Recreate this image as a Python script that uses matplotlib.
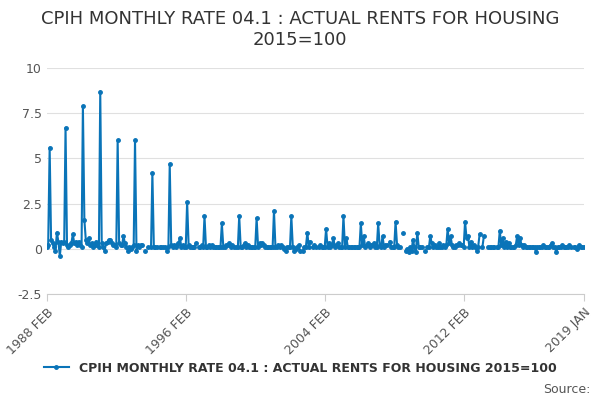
import matplotlib
matplotlib.use("Agg")
import matplotlib.pyplot as plt
import numpy as np
import pandas as pd

N = None
y1988 = [0.1, 0.2, 5.6, 0.5, 0.3, 0.1, -0.1, 0.9, 0.4, -0.4, 0.4, 0.2]  # Feb-Jan89 offset handled below
y1989 = [0.3, 0.4, 6.7, 0.2, 0.1, 0.2, 0.3, 0.8, 0.3, 0.4, 0.2, 0.4]
y1990 = [0.2, 0.1, 7.9, 1.6, 0.5, 0.3, 0.6, 0.2, 0.3, 0.1, 0.2, 0.4]
y1991 = [0.2, 0.1, 8.7, 0.3, 0.1, -0.1, 0.3, 0.4, 0.5, 0.5, 0.3, 0.2]
y1992 = [0.2, 0.1, 6.0, 0.3, 0.2, 0.2, 0.7, 0.3, 0.1, -0.1, 0.1, 0.0]
y1993 = [0.1, 0.2, 6.0, -0.1, 0.2, 0.1, 0.2, 0.2, N, -0.1, N, 0.1]
y1994 = [N, 0.1, 4.2, 0.1, 0.1, 0.1, N, 0.1, 0.1, 0.1, N, 0.1]
y1995 = [-0.1, 0.1, 4.7, 0.2, 0.1, 0.2, 0.1, 0.2, 0.3, 0.6, 0.1, 0.2]
y1996 = [0.1, 0.1, 2.6, 0.2, 0.1, 0.1, 0.1, 0.1, 0.3, N, 0.1, 0.1]
y1997 = [0.2, 0.1, 1.8, 0.1, 0.1, 0.2, 0.1, 0.2, 0.1, 0.1, 0.1, 0.1]
y1998 = [0.1, 0.1, 1.4, 0.1, 0.1, 0.2, 0.2, 0.3, 0.1, 0.2, 0.1, N]
y1999 = [0.1, 0.1, 1.8, 0.1, 0.1, 0.2, 0.3, 0.1, 0.2, 0.1, 0.1, 0.1]
y2000 = [0.1, 0.1, 1.7, 0.1, 0.3, 0.2, 0.3, 0.2, 0.1, 0.1, 0.1, 0.1]
y2001 = [0.1, 0.1, 2.1, 0.1, 0.1, 0.2, 0.1, 0.2, 0.1, 0.0, -0.1, 0.1]
y2002 = [0.1, 0.1, 1.8, 0.1, -0.1, 0.0, 0.1, 0.2, -0.1, N, -0.1, 0.1]
y2003 = [0.1, 0.9, 0.1, 0.4, N, 0.1, 0.2, 0.1, N, 0.1, 0.2, 0.1]
y2004 = [0.1, 0.1, 1.1, 0.1, 0.3, 0.1, 0.2, 0.6, 0.1, 0.2, 0.3, 0.1]
y2005 = [0.1, 0.1, 1.8, 0.1, 0.6, 0.1, 0.1, 0.1, 0.1, 0.1, 0.1, 0.1]
y2006 = [0.1, 0.1, 1.4, 0.2, 0.7, 0.1, 0.2, 0.3, 0.1, 0.2, 0.2, 0.3]
y2007 = [0.1, 0.1, 1.4, 0.2, 0.1, 0.7, 0.1, 0.2, 0.2, N, 0.4, 0.1]
y2008 = [0.1, 0.1, 1.5, 0.2, 0.1, 0.1, N, 0.9, N, -0.1, 0.0, -0.2]
y2009 = [0.1, -0.1, 0.5, 0.1, -0.2, 0.9, 0.1, 0.1, 0.1, N, -0.1, N]
y2010 = [0.1, 0.1, 0.7, 0.3, 0.1, 0.2, 0.1, 0.1, 0.3, 0.1, 0.1, 0.2]
y2011 = [0.1, 0.2, 1.1, 0.3, 0.7, 0.2, 0.1, 0.1, 0.2, 0.2, 0.3, 0.2]
y2012 = [0.2, 0.1, 1.5, 0.6, 0.7, 0.1, 0.4, 0.1, 0.2, 0.1, -0.1, 0.1]
y2013 = [0.8, N, 0.1, 0.7, N, N, 0.1, 0.1, 0.1, 0.1, 0.1, N]
y2014 = [0.1, 0.1, 1.0, 0.2, 0.6, 0.1, 0.4, 0.1, 0.3, 0.1, 0.1, 0.1]
y2015 = [0.1, 0.2, 0.7, 0.2, 0.6, 0.2, 0.1, 0.2, 0.1, 0.1, 0.1, 0.1]
y2016 = [0.1, 0.1, 0.1, -0.2, 0.1, 0.1, 0.1, 0.1, 0.2, 0.1, 0.1, 0.1]
y2017 = [0.1, 0.2, 0.3, 0.1, 0.1, -0.2, 0.1, 0.1, 0.1, 0.2, 0.1, 0.1]
y2018 = [0.1, 0.1, 0.2, 0.1, N, 0.1, 0.1, 0.0, 0.1, 0.2, 0.1, 0.1]
y2019 = [0.1]

values = (y1988[:11] + y1989 + y1990 + y1991 + y1992 + y1993 + y1994 + y1995 + y1996
          + y1997 + y1998 + y1999 + y2000 + y2001 + y2002 + y2003 + y2004 + y2005
          + y2006 + y2007 + y2008 + y2009 + y2010 + y2011 + y2012 + y2013 + y2014
          + y2015 + y2016 + y2017 + y2018 + y2019)
dates = pd.date_range("1988-02-01", periods=len(values), freq="MS")
vals = np.array([np.nan if v is None else v for v in values], dtype=float)

tick_dates = pd.to_datetime(["1988-02-01", "1996-02-01", "2004-02-01", "2012-02-01", "2019-01-01"])
tick_labels = ["1988 FEB", "1996 FEB", "2004 FEB", "2012 FEB", "2019 JAN"]
yticks = [-2.5, 0, 2.5, 5, 7.5, 10]

col = "#0a74b8"
fig = plt.figure(figsize=(6, 4), dpi=100)
ax = fig.add_axes([0.078, 0.265, 0.895, 0.565])
ax.plot(dates, vals, color=col, lw=1.5, marker="o", ms=2.5)
ax.set_ylim(-2.5, 10)
ax.set_yticks(yticks)
ax.set_yticklabels(["-2.5", "0", "2.5", "5", "7.5", "10"], color="#555555", fontsize=9)
ax.set_xlim(dates[0], dates[-1])
ax.set_xticks(tick_dates)
ax.set_xticklabels(tick_labels, rotation=45, ha="right", rotation_mode="anchor", color="#555555", fontsize=9)
ax.grid(axis="y", color="#e0e0e0", lw=0.8)
for s in ["top", "right", "left"]:
    ax.spines[s].set_visible(False)
ax.spines["bottom"].set_color("#cccccc")
ax.tick_params(axis="y", length=0)
ax.tick_params(axis="x", color="#cccccc", length=5)
fig.suptitle("CPIH MONTHLY RATE 04.1 : ACTUAL RENTS FOR HOUSING\n2015=100", y=0.975, fontsize=13, color="#333333")
ax.plot([], [], color=col, lw=1.5, marker="o", ms=2.5, label="CPIH MONTHLY RATE 04.1 : ACTUAL RENTS FOR HOUSING 2015=100")
leg = fig.legend(loc="lower center", bbox_to_anchor=(0.5, 0.035), frameon=False, fontsize=9)
for t in leg.get_texts():
    t.set_fontweight("bold"); t.set_color("#333333")
fig.text(0.985, 0.01, "Source:", ha="right", va="bottom", fontsize=9, color="#555555")
fig.savefig("out.png", dpi=100)
